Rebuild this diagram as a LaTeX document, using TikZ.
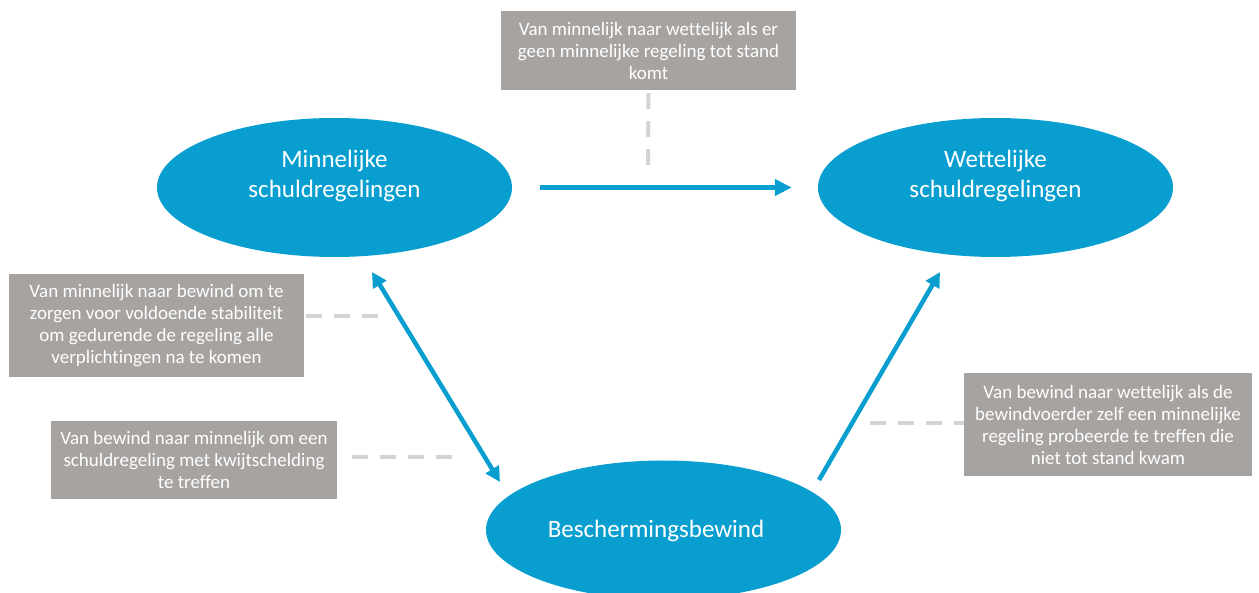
\documentclass[tikz,border=0pt]{standalone}
\usepackage{fontspec}
\setmainfont{Carlito}[RawFeature={-liga;-clig;-calt;-dlig}]
\usetikzlibrary{shapes.geometric,arrows.meta}
\definecolor{blu}{RGB}{8,159,208}
\definecolor{boxgray}{RGB}{166,163,161}
\definecolor{dashgray}{RGB}{212,212,212}
\begin{document}
\begin{tikzpicture}[x=1pt,y=-1pt,
 oval/.style={ellipse, fill=blu, minimum width=355pt, minimum height=139pt, inner sep=0pt},
 otext/.style={text=white, font=\fontsize{25}{30}\selectfont, align=center},
 gbox/.style={fill=boxgray, text=white, font=\fontsize{19}{22}\selectfont, align=center, inner sep=0pt},
 dline/.style={draw=dashgray, line width=4pt, dash pattern=on 16pt off 12pt},
 arr/.style={draw=blu, line width=5pt, -{Triangle[length=17pt,width=16pt]}},
 darr/.style={draw=blu, line width=4.5pt, {Triangle[length=15pt,width=15pt]}-{Triangle[length=15pt,width=15pt]}},
 uarr/.style={draw=blu, line width=4.5pt, -{Triangle[length=15pt,width=15pt]}},
]
\useasboundingbox (0,0) rectangle (1259,593);
\clip (0,0) rectangle (1259,593);

% ellipses
\node[oval] (m) at (334.5,187.5) {};
\node[otext] (mt) at (334.5,176) {Minnelijke\\schuldregelingen};
\node[oval] (w) at (995.5,187.5) {};
\node[otext] (wt) at (995.5,176) {Wettelijke\\schuldregelingen};
\node[oval] (b) at (663.5,530) {};
\node[otext] (bt) at (656,531) {Beschermingsbewind};

% grey boxes
\node[gbox, minimum width=295pt, minimum height=79pt] (t1) at (648.5,50.5)
  {Van minnelijk naar wettelijk als er\\geen minnelijke regeling tot stand\\komt};
\node[gbox, minimum width=295pt, minimum height=103pt] (t2) at (156.5,325.5)
  {Van minnelijk naar bewind om te\\zorgen voor voldoende stabiliteit\\om gedurende de regeling alle\\verplichtingen na te komen};
\node[gbox, minimum width=286pt, minimum height=78pt] (t3) at (194,460)
  {Van bewind naar minnelijk om een\\schuldregeling met kwijtschelding\\te treffen};
\node[gbox, minimum width=288pt, minimum height=103pt] (t4) at (1108,424.5)
  {Van bewind naar wettelijk als de\\bewindvoerder zelf een minnelijke\\regeling probeerde te treffen die\\niet tot stand kwam};

% dashed leaders
\coordinate (d1) at (648,165);
\draw[dline] ([yshift=-3pt]t1.south) -- (d1);
\coordinate (d2) at (380,316);
\draw[dline] (t2.east |- d2) ++(2,0) -- (d2);
\coordinate (d3) at (455,457);
\draw[dline] (t3.east |- d3) ++(15,0) -- (d3);
\coordinate (d4) at (870,423);
\draw[dline] (d4) -- (t4.west |- d4);

% arrows
\draw[arr, shorten <=28pt, shorten >=26pt] (m.east) -- (w.west);
\coordinate (mb) at ([shift={(37.5,84.5)}]m.center);
\coordinate (bm) at ([shift={(-163.5,-48)}]b.center);
\draw[darr] (mb) -- (bm);
\coordinate (bw) at ([shift={(155.5,-50)}]b.center);
\coordinate (wb) at ([shift={(-55.5,84.5)}]w.center);
\draw[uarr] (bw) -- (wb);
\end{tikzpicture}
\end{document}
